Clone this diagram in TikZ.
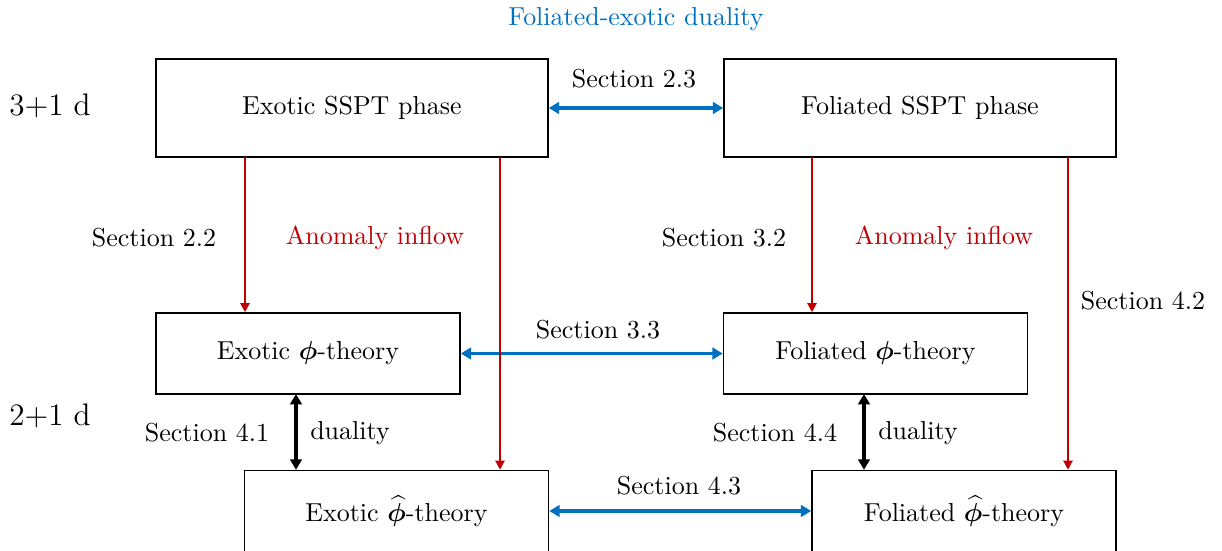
\documentclass[tikz,border=0pt]{standalone}
\usepackage{amsmath,bm}
\usetikzlibrary{arrows.meta}
\definecolor{myblue}{RGB}{0,112,192}
\definecolor{myred}{RGB}{192,0,0}
\begin{document}
\begin{tikzpicture}[x=0.385pt,y=-0.385pt,
  box/.style={draw,line width=0.6pt,inner sep=0pt},
  bigbox/.style={box,minimum width={392*0.385pt},minimum height={98*0.385pt}},
  smallbox/.style={box,minimum width={304*0.385pt},minimum height={81*0.385pt}},
  bluearr/.style={myblue,line width=1.2pt,{Triangle[length=4pt,width=4.5pt]}-{Triangle[length=4pt,width=4.5pt]}},
  redarr/.style={myred,line width=0.8pt,-{Triangle[length=3.5pt,width=3.5pt]}},
  blackarr/.style={black,line width=1.2pt,{Triangle[length=4pt,width=4.5pt]}-{Triangle[length=4pt,width=4.5pt]}},
  lab/.style={inner sep=1pt}]
\useasboundingbox (0,0) rectangle (1222,550);
\node[lab,text=myblue] (title) at (636,19) {Foliated-exotic duality};
\node[lab,font=\large] (d3) at (50,106) {3+1 d};
\node[lab,font=\large] (d2) at (50,416) {2+1 d};

\node[bigbox] (exs) at (352,108) {Exotic SSPT phase};
\node[bigbox] (fos) at (920,108) {Foliated SSPT phase};
\node[smallbox] (exp) at (308,353.5) {Exotic $\bm{\phi}$-theory};
\node[smallbox] (fop) at (875.5,353.5) {Foliated $\bm{\phi}$-theory};
\node[smallbox] (exh) at (396.5,511) {Exotic $\widehat{\bm{\phi}}$-theory};
\node[smallbox] (foh) at (964,511) {Foliated $\widehat{\bm{\phi}}$-theory};

\draw[bluearr] (exs.east) -- (fos.west);
\draw[bluearr] (exp.east) -- (fop.west);
\draw[bluearr] (exh.east) -- (foh.west);

\coordinate (r1) at (245,157);
\coordinate (r2) at (500,157);
\coordinate (r3) at (812,157);
\coordinate (r4) at (1068,157);
\draw[redarr] (r1) -- (r1 |- exp.north);
\draw[redarr] (r2) -- (r2 |- exh.north);
\draw[redarr] (r3) -- (r3 |- fop.north);
\draw[redarr] (r4) -- (r4 |- foh.north);

\coordinate (b1) at (296,394);
\coordinate (b2) at (864,394);
\draw[blackarr] (b1) -- (b1 |- exh.north);
\draw[blackarr] (b2) -- (b2 |- foh.north);

\node[lab] (s23) at (634,79) {Section 2.3};
\node[lab] (s33) at (598,330) {Section 3.3};
\node[lab] (s43) at (679,486) {Section 4.3};
\node[lab] (s22) at (154,238) {Section 2.2};
\node[lab,text=myred] (a1) at (375,238) {Anomaly inflow};
\node[lab] (s32) at (724,238) {Section 3.2};
\node[lab,text=myred] (a2) at (944,238) {Anomaly inflow};
\node[lab] (s42) at (1143,301) {Section 4.2};
\node[lab] (s41) at (207,433) {Section 4.1};
\node[lab] (du1) at (350,433) {duality};
\node[lab] (s44) at (775,433) {Section 4.4};
\node[lab] (du2) at (918,433) {duality};
\end{tikzpicture}
\end{document}
